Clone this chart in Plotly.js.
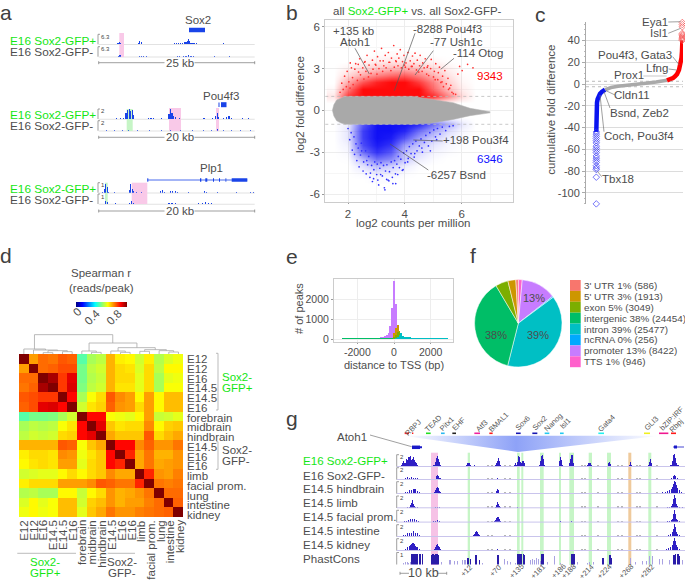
<!DOCTYPE html>
<html>
<head>
<meta charset="utf-8">
<script src="https://cdn.plot.ly/plotly-3.0.1.min.js"></script>
<style>
body { margin: 0; background: #fff; }
#fig { width: 685px; height: 580px; }
</style>
</head>
<body>
<div id="fig"></div>
<script>
// panel a: browser tracks (x in kb, height 0-1)
const aTrack1X = [3.1,3.3,3.5,4.5,5.8,6.4,6.6,6.8,7,7.6,12.2,12.5,12.8,13.1,13.4,13.7,14,14.2,14.4,14.6,14.8,15.1,15.4,15.7,16,17.8,18.5,19.8,20,20.4,21.5,22.8];
const aTrack1Y = [.15,.25,.1,.04,.05,.15,.3,.22,.07,.05,.08,.12,.15,.14,.15,.18,.2,.3,.5,.3,.15,.12,.1,.1,.06,.05,.04,.07,.1,.06,.07,.05];
const aTrack2X = [3.2,3.4,6.6,6.9,7.2,7.6,12.6,13,13.6,14,14.4,14.8,15.2,18.5,21];
const aTrack2Y = [.08,.12,.05,.08,.06,.05,.05,.06,.08,.1,.12,.1,.05,.03,.03];
const aTrack3X = [2.3,2.8,3.2,3.5,3.7,3.9,4.1,4.3,4.5,6.4,6.7,7,8.1,9,9.2,9.4,9.6,9.8,10.4,12.6,13.5,14.6,15,15.2,15.4,16,16.4,16.7,17,18.4,19.2,19.8];
const aTrack3Y = [.05,.05,.08,.6,.9,1,.8,.9,.4,.08,.12,.08,.05,.5,1,.6,.3,.15,.05,.04,.05,.1,.25,.55,.2,.08,.2,.3,.12,.05,.05,.04];
const aTrack4X = [1,2,3,3.8,5,6.5,8,9.2,10.5,12,13.4,14.5,15.2,16,17,18.2,19.5];
const aTrack4Y = [.04,.05,.04,.08,.04,.05,.04,.06,.04,.05,.08,.1,.14,.08,.05,.04,.05];
const aTrack5X = [.5,.7,.9,1.1,1.3,2,3.9,4.1,4.3,4.5,4.8,5.5,7.9,8.2,8.4,9.2,9.5,9.8,10.1,11.5,13.6,13.8,15.2,17.7,19.5,19.8];
const aTrack5Y = [.1,.4,.85,.5,.1,.05,.3,.85,.4,.15,.08,.05,.15,.22,.1,.15,.18,.16,.1,.04,.15,.1,.05,.07,.1,.06];
const aTrack6X = [.9,1.1,2.2,3.9,4.2,4.5,6,9,9.4,9.8,11,12.8,13.3,13.7,14.1,14.5,16,18];
const aTrack6Y = [.25,.15,.05,.1,.3,.08,.04,.07,.09,.06,.04,.08,.14,.16,.12,.07,.04,.04];

const greyX = [1.45,1.5,1.6,1.75,1.9,2.5,3.5,4.3,4.9,5.7,6.3,6.7,7.0];
const greyTop = [0,.4,.75,.9,1,1,1,1,.8,.55,.15,0,-.1];
const greyBottom = [0,-.4,-.75,-.9,-1,-1,-1,-1,-.93,-.65,-.38,-.25,-.18];
const densityX = [1.5,2,2.5,3,3.5,4,4.5,5,5.5,6,6.5];
const redDensityY = [.5,1,1.5,2,2.5,3,3.5,4];
const redDensity = [
[0,0,0,0,0,0,0,0,0,0,0],
[.1,.8,1,1,1,1,1,.85,.5,.15,0],
[.03,.55,1,1,1,1,1,.6,.28,.08,0],
[0,.35,.7,.9,1,1,.8,.5,.2,.04,0],
[0,.15,.35,.5,.6,.65,.5,.3,.12,.02,0],
[0,.05,.15,.22,.28,.3,.25,.15,.06,0,0],
[0,0,.04,.07,.1,.11,.08,.04,.01,0,0],
[0,0,0,.01,.02,.02,.01,0,0,0,0]];
const blueDensityY = [-5,-4.5,-4,-3.5,-3,-2.5,-2,-1.5,-1,-.5];
const blueDensity = [
[0,0,0,.02,.01,0,0,0,0,0,0],
[0,0,.03,.09,.07,.02,0,0,0,0,0],
[0,0,.12,.28,.2,.08,.02,0,0,0,0],
[0,.01,.3,.6,.5,.22,.08,.02,0,0,0],
[0,.03,.6,.85,.7,.25,.15,.05,.02,0,0],
[0,.06,.75,.95,.85,.4,.25,.1,.04,.01,0],
[0,.1,.8,1,.95,.7,.4,.2,.08,.02,0],
[0,.1,.8,1,1,.9,.6,.35,.15,.04,0],
[0,.08,.7,1,1,1,.9,.6,.35,.1,0],
[0,0,0,0,0,0,0,0,0,0,0]];
const redPointsX = [1.72,1.78,1.83,1.88,1.94,1.97,2.03,2.07,2.12,2.16,2.18,2.24,2.27,2.33,2.37,2.41,2.44,2.52,2.56,2.58,2.63,2.67,2.72,2.74,2.81,2.86,2.88,2.93,2.96,3.02,3.04,3.09,3.13,3.18,3.22,3.26,3.31,3.34,3.42,3.44,3.51,3.53,3.61,3.63,3.68,3.73,3.76,3.79,3.84,3.88,3.92,3.97,4.02,4.04,4.11,4.14,4.19,4.23,4.27,4.32,4.36,4.41,4.44,4.52,4.54,4.61,4.63,4.68,4.72,4.77,4.81,4.84,4.91,4.93,5.01,5.04,5.09,5.16,5.18,5.22,5.27,5.33,5.36,5.41,5.46,5.52,5.54,5.62,5.66,5.71,5.79,5.87,5.93,6.02,6.21,6.4,2.08,2.36,2.6,2.98,3.24,3.47,3.7,3.99,4.26,4.49,4.79,5.07,5.31,5.58];
const redPointsY = [1.3,1.95,1.5,2.45,1.7,2.8,2.05,1.6,3.05,2.35,1.85,2.95,3.35,2.15,2.75,3.7,2.55,3.05,2.25,3.45,2.8,3.95,2.4,3.25,2.65,3.6,2.95,4.25,3.3,2.6,3.85,3,3.55,4.45,2.8,3.2,3.95,3.05,4.15,3.45,2.85,3.75,4.65,3.1,3.55,4.05,3.2,3.75,4.35,3.05,3.5,3.95,3.1,3.4,4.15,2.95,3.55,3.15,3.9,3.35,4.1,2.9,3.6,3.2,3.95,2.8,3.4,3.05,3.7,2.6,3.2,2.5,3,3.65,2.4,2.8,3.35,2.2,2.7,3.1,2,2.45,1.7,2.85,1.9,2.3,1.5,1.8,1.3,1.2,1.15,2.6,3.15,2.85,3.3,3.05,3.4,3.3,3.5,3.25,3.55,3.45,3.5,3.25,3.15,2.75,3.1,2.2,2.05,1.6];
const bluePointsX = [2,2.06,2.11,2.15,2.21,2.23,2.28,2.31,2.36,2.39,2.44,2.47,2.53,2.55,2.62,2.64,2.69,2.73,2.77,2.83,2.86,2.91,2.94,3.01,3.03,3.08,3.12,3.16,3.21,3.25,3.28,3.32,3.37,3.41,3.46,3.52,3.56,3.59,3.64,3.67,3.72,3.77,3.81,3.86,3.91,3.96,4.01,4.06,4.12,4.16,4.22,4.28,4.33,4.39,4.43,4.51,4.57,4.62,4.69,4.74,4.83,4.88,4.95,5.02,5.08,5.15,5.24,5.32,5.44,5.57,5.7,2.9,3.05,3.15,3.3,3.44,3.58,3.75,3.94,2.48,2.66,2.79,3.36,3.68,4.1,4.35,4.6,4.9,5.12];
const bluePointsY = [-1.3,-2.1,-1.6,-2.85,-1.9,-3.15,-2.4,-3.6,-2.7,-4.05,-3.2,-2.35,-4.35,-3.7,-2.9,-4.55,-3.9,-3.3,-4.8,-3.95,-5.1,-4.25,-3.7,-4.6,-3.85,-5.35,-4.15,-3.75,-4.7,-3.95,-5.55,-4.35,-3.9,-5,-4.4,-3.7,-4.8,-4.1,-3.6,-4.55,-3.85,-3.3,-4.1,-3.5,-4.3,-3.05,-3.75,-2.9,-3.45,-2.6,-3.1,-2.4,-3.35,-2.2,-2.9,-2.55,-2.05,-3,-2.3,-1.8,-2.55,-1.6,-2.2,-1.4,-1.9,-1.3,-1.7,-1.2,-1.45,-1.15,-1.1,-4.9,-5,-4.6,-5.7,-5.05,-5.25,-4.6,-4.25,-2.9,-3.6,-4.5,-4.95,-5.25,-3.7,-3.1,-2.7,-2.9,-2.1];

// panel c: ranked cumulative difference
const cBlueX = [10.3,10.3,10.4,10.7,11,11.6,12.6,14,16,19];
const cBlueY = [-44,-35,-28,-22,-17,-14,-11,-9,-7,-5.3];
const cGreyX = [19,25,32,40,47,55,62,70,75,81];
const cGreyY = [-5.3,-3.2,-2,-1,-.3,.3,1,1.8,2.6,3.4];
const cRedX = [81,84,87,89,91,93,94.5,95.5,96,96.3,96.4];
const cRedY = [3.4,4.3,5.5,7,9,13,18,24,30,36,40];
const cBlueTailX = [10.3,10.3,10.3,10.3,10.3,10.3,10.3,10.3,10.3,10.3,10.3,10.3,10.3,10.3,10.3,10.3,10.3,10.3,10.3];
const cBlueTailY = [-110,-85.5,-78.5,-77,-75,-72,-70,-68,-66,-63,-61,-59,-57,-54,-52,-50,-48,-46,-44];
const cRedTailX = [96.3,96.3,96.3,96.3,96.3,96.3,96.3,96.3,96.3,96.3];
const cRedTailY = [56.5,54.5,52.5,46.5,45.3,44.2,43,42,41,40];

// panel d: Spearman matrix and dendrogram
const heatLabels = ['E12','E12','E16','E14.5','E14.5','E16','forebrain','midbrain','hindbrain','E14.5','E16','E16','limb','facial prom.','lung','intestine','kidney'];
const heatZ = [
[1,.72,.77,.76,.79,.78,.46,.54,.56,.70,.64,.63,.58,.64,.55,.59,.61],
[.72,1,.77,.78,.80,.80,.49,.56,.58,.70,.66,.65,.59,.66,.56,.63,.63],
[.77,.77,1,.96,.82,.90,.49,.55,.57,.70,.66,.66,.60,.66,.54,.60,.61],
[.76,.78,.96,1,.82,.91,.50,.56,.58,.70,.65,.65,.60,.66,.54,.62,.62],
[.79,.80,.82,.82,1,.87,.54,.62,.66,.79,.74,.72,.63,.72,.63,.69,.69],
[.78,.80,.90,.91,.87,1,.58,.65,.67,.78,.73,.72,.66,.72,.63,.69,.69],
[.46,.49,.49,.50,.54,.58,1,.87,.87,.62,.61,.60,.63,.72,.57,.58,.60],
[.54,.56,.55,.56,.62,.65,.87,1,.90,.68,.65,.66,.66,.74,.63,.67,.68],
[.56,.58,.57,.58,.66,.67,.87,.90,1,.71,.68,.68,.68,.79,.66,.69,.71],
[.70,.70,.70,.70,.79,.78,.62,.68,.71,1,.87,.87,.74,.78,.73,.73,.76],
[.64,.66,.66,.65,.74,.73,.61,.65,.68,.87,1,.84,.71,.76,.70,.70,.73],
[.63,.65,.66,.65,.72,.72,.60,.66,.68,.87,.84,1,.71,.76,.71,.72,.73],
[.58,.59,.60,.60,.63,.66,.63,.66,.68,.74,.71,.71,1,.84,.73,.72,.75],
[.64,.66,.66,.66,.72,.72,.72,.74,.79,.78,.76,.76,.84,1,.76,.75,.76],
[.55,.56,.54,.54,.63,.63,.57,.63,.66,.73,.70,.71,.73,.76,1,.77,.77],
[.59,.63,.60,.62,.69,.69,.58,.67,.69,.73,.70,.72,.72,.75,.77,1,.78],
[.61,.63,.61,.62,.69,.69,.60,.68,.71,.76,.73,.73,.75,.76,.77,.78,1]];
// each merge: left leaf, left height, right leaf, right height, join height
const dendMerges = [
[2,0,3,0,4],[4,0,5,0,7],[2.5,4,4.5,7,10],[1,0,3.5,10,12],[0,0,2.25,12,15],
[7,0,8,0,5],[6,0,7.5,5,9],[10,0,11,0,5],[9,0,10.5,5,9],[12,0,13,0,8],
[15,0,16,0,6],[14,0,15.5,6,10],[12.5,8,14.75,10,13],[9.75,9,13.6,13,19],
[6.75,9,11.7,19,33],[1.1,15,9.2,33,58]];

// panel e: distance to TSS histogram, 100 bp bins
const binPromoter = [-1000,-900,-800,-700,-600,-500,-400,-300,-200,-100,0,100,200,300,400,500,600,700];
const countPromoter = [60,60,70,80,100,130,200,320,650,1560,2900,1780,680,300,150,90,60,40];
const binUtr = [0,100,200,300,400,500];
const countUtr = [280,560,700,420,140,60];
const binExon = [0,100,200,300,400,500,600,700];
const countExon = [90,200,340,400,280,130,80,50];
const binIntron = [100,200,300,400,500,600,700,800,900,1000,1100,1200,1300,1400,1500,1600,1700,1800,1900,2000,2100,2200,2300,2400,2500,2600,2700,2800,2900];
const countIntron = [60,120,210,280,170,110,90,80,80,75,70,65,60,55,55,50,50,45,45,45,40,40,40,35,35,35,30,30,30];
const binIntergenic = [-2800,-2700,-2600,-2500,-2400,-2300,-2200,-2100,-2000,-1900,-1800,-1700,-1600,-1500,-1400,-1300,-1200,-1100,-1000,-900,-800,-700,-600,-500,-400,-300,-200,-100];
const countIntergenic = [45,45,45,45,45,45,45,45,45,48,48,48,50,50,50,52,52,55,55,58,58,60,60,60,60,60,60,60];

// panel f: peak annotation
const pieNames = ["3' UTR","5' UTR",'exon','intergenic','intron','ncRNA','promoter','TTS'];
const piePercent = [1,3,5,38,39,0,13,1];
const pieCounts = [586,1913,3049,24454,25477,256,8422,946];
const pieColors = ['#F8766D','#CD9600','#7CAE00','#00BE67','#00BFC4','#00A9FF','#C77CFF','#FF61CC'];

// panel g: Atoh1 locus tracks (x = position along the composite window)
const gTrackNames = ['E16 Sox2-GFP+','E16 Sox2-GFP-','E14.5 hindbrain','E14.5 limb','E14.5 facial prom.','E14.5 intestine','E14.5 kidney','PhastCons'];
const gT1X = [4,5,6,7,8,9,10,11,12,13,14,15,16,17,18,19,20,21,22,27,28,31,32,36,37,38,39,40,41,42,43,44,50,58,69,70,71,72,73,75,77,98,99,100,101,102,103,108,117,118,119,120,121,122,123,124,125,126,127,128,135,142,143,144,145,146,147,160,162,163,164,165,171,172,173,174,175,176,177,190,191,192,193,194,195,209,211,212,213,214,232,233,234,251,252,253,254,272,273,274,275,276,277,278,279,280,281,282];
const gT1Y = [.15,.3,.55,.3,.35,.7,.6,.85,.9,.95,.6,.75,.85,.6,.4,.3,.2,.1,.08,.1,.1,.08,.08,.15,.2,.45,.8,1,.75,.4,.2,.1,.08,.1,.15,.3,.35,.3,.15,.1,.12,.2,.35,.55,.8,.5,.2,.1,.15,.3,.2,.4,.95,.85,.45,.3,.5,.55,.3,.1,.1,.15,.55,1,1.1,.7,.2,.1,.5,.85,.6,.2,.1,.3,.7,1.1,1.1,.3,.1,.15,.3,.35,.3,.2,.1,.1,.3,.4,.25,.1,.15,.45,.2,.2,.45,.7,.3,.1,.15,.2,.5,1.1,1.2,.8,.3,.2,.15,.1];
const gT2X = [6,8,10,12,14,16,18,20,22,26,37,39,40,41,42,43,44,46,60,66,71,78,99,100,101,120,125,144,163,174,192,212,233,252,270,274,276,277,278,280,283];
const gT2Y = [.1,.2,.22,.2,.25,.2,.18,.12,.06,.05,.1,.3,.45,.3,.2,.15,.1,.06,.05,.04,.08,.04,.08,.12,.08,.08,.08,.1,.05,.1,.05,.06,.08,.08,.08,.15,.3,.45,.3,.15,.08];
const gT3X = [5,8,10,12,14,16,17,18,20,22,24,37,38,39,40,41,42,43,44,70,98,99,100,101,102,120,122,126,145,175,193,233,253,262,265,268,270,272,274,275,276,277,278,279,280,282,284,287];
const gT3Y = [.06,.12,.2,.3,.35,.4,.45,.4,.25,.12,.05,.12,.3,.5,.65,.5,.25,.15,.08,.06,.1,.25,.45,.3,.1,.05,.08,.05,.06,.05,.05,.06,.06,.1,.15,.2,.25,.35,.45,.6,.85,1.15,1.1,.8,.55,.35,.2,.1];
const gT4X = [10,12,13,14,15,16,17,18,20,24,38,40,42,70,98,99,100,101,102,103,120,145,193,233,270,272,274,275,276,277,278,279,280,282,285];
const gT4Y = [.05,.1,.25,.45,.7,.35,.15,.1,.06,.04,.06,.1,.05,.04,.12,.3,.55,.35,.15,.06,.05,.04,.04,.04,.06,.1,.2,.4,.85,1.2,.95,.4,.2,.1,.05];
const gT5X = [5,7,9,11,13,15,17,19,21,23,27,36,38,40,42,44,70,97,98,99,100,101,102,103,120,145,163,174,193,212,233,270,272,274,275,276,277,278,279,280,282,285];
const gT5Y = [.06,.1,.15,.2,.3,.32,.3,.22,.12,.06,.04,.08,.15,.22,.12,.06,.05,.12,.25,.4,.45,.5,.3,.1,.05,.05,.12,.08,.05,.05,.05,.08,.12,.2,.35,.8,1.1,.8,.35,.2,.1,.05];
const gT6X = [4,6,8,10,12,14,16,18,20,22,25,40,55,74,76,77,78,79,80,81,82,83,85,88,100,120,145,175,193,212,233,253,268,271,273,275,276,277,278,279,280,282,285];
const gT6Y = [.08,.15,.2,.3,.35,.35,.5,.35,.3,.15,.06,.05,.05,.06,.12,.25,.45,.55,.4,.25,.15,.1,.06,.05,.06,.05,.05,.06,.05,.05,.05,.05,.1,.15,.25,.45,.75,1.15,.85,.4,.25,.12,.05];
const gT7X = [4,6,8,10,12,13,14,15,16,17,18,19,20,22,24,27,36,37,38,39,40,41,42,43,45,60,80,98,100,102,120,145,175,193,212,266,269,271,273,275,276,277,278,279,280,282,284,287];
const gT7Y = [.06,.1,.2,.3,.4,.55,.65,.75,.7,.6,.45,.35,.3,.15,.08,.04,.08,.2,.35,.5,.65,.45,.3,.15,.06,.05,.05,.1,.2,.08,.05,.05,.05,.05,.05,.1,.15,.25,.35,.5,.85,1.2,.9,.55,.35,.2,.1,.05];
// small grey gene-model marks that repeat on every track
const gRepeatX = [91,95,108,113,185,188,201,221,225,240,243,260];
const gRepeatY = [.14,.14,.14,.14,.14,.14,.14,.14,.14,.14,.14,.14];
const gConsDarkX = [14,15,16,17,18,19,20,22,23,25,34,35,36,37,38,39,40,41,70,71,73,78,79,82,100,101,120,121,122,123,124,126,127,144,145,146,174,175,176,177,205,206,212,213,214,276,277,278,280,281,282];
const gConsDarkY = [1,1,1,1,1,1,1,1,1,1,.9,1,1,.9,1,1,1,.9,.6,.6,.5,.9,.9,.4,.9,.9,1,1,1,1,1,1,.9,1,1,1,1,1,1,1,.6,.6,.9,.9,.6,.9,.9,1,1,1,.8];
const gConsLightX = [6,8,10,11,13,44,52,53,57,60,65,67,68,85,107,110,113,118,133,135,137,139,141,143,150,157,163,180,190,192,196,233,238,245,249,252,255,262,265,272,285];
const gConsLightY = [.15,.2,.2,.15,.2,.2,.4,.4,.3,.3,.4,.45,.4,.1,.5,.3,.2,.15,.4,.5,.45,.6,.5,.35,.2,.8,.1,.2,.15,.2,.2,.6,.2,.3,.3,.8,.8,.5,.5,.4,.4];
const gPinkBands = [[431,438]];
const gGreenBands = [[467.7,470],[517,519.7],[521.3,523.3],[540,543.7],[559,561],[569.3,574],[588.7,592],[607,611],[648.3,651.3]];
const gOrangeBands = [[628.3,631.3]];
const motifNames = ['RBPJ','TEAD','Pitx1','EHF','Atf3','BMAL1','Sox6','Sox2','Nanog','Isl1','Gata4','GLI3','bZIP:IRF','Rbpj'];
const motifLabelX = [413,433,447,458,481,498,522,539,553,565,606,651,672,676];
const motifLabelY = [427,423,423,424,426,422,423,423,422,423,423,423,419,425];
const motifDash0 = [404,426,468,513,547,613,658,738,787,824,870,985,1122,1167,1203];
const motifDash1 = [417,430,482,524,558,630,668,752,802,838,881,1002,1140,1195,1218];
const motifDashColor = ['#ff1a1a','#ff1a1a','#22e022','#2ab8f0','#222222','#f020a0','#ff1a1a','#1515b0','#1515b0','#22c8f0','#22c8f0','#22f0f0','#f0f020','#f01890','#ff1a1a'];
const distLabels = ['+12','+70','+135','+181','+186','+188','+214','+224','+268','+282'];
const distLabelX = [466.7,495.7,516,537.7,558,568.3,586.7,604.3,626,646.7];
const distLabelY = [570.5,570.5,571,571,571,571,571.5,571.5,571.5,571];

const W = 685, H = 580;
const TXT = '#4d4d4d', GREEN = '#14e614', GENE = '#1a44e8', TRACK = '#2f1fc4', FONT = '"Liberation Sans", Arial, sans-serif';

const traces = [];
const shapes = [];
const annotations = [];
const layout = {
    width: W, height: H,
    margin: { l: 0, r: 0, t: 0, b: 0 },
    paper_bgcolor: '#ffffff',
    plot_bgcolor: 'rgba(0,0,0,0)',
    showlegend: false,
    font: { family: FONT, color: TXT, size: 11.5 },
    bargap: 0,
    shapes: shapes,
    annotations: annotations
};

function addAxes(n, l, t, r, b, xOpts, yOpts) {
    const base = { showgrid: false, zeroline: false, showticklabels: false, ticks: '', showline: false, fixedrange: true };
    layout['xaxis' + n] = Object.assign({}, base, { domain: [l / W, r / W], anchor: 'y' + n }, xOpts);
    layout['yaxis' + n] = Object.assign({}, base, { domain: [1 - b / H, 1 - t / H], anchor: 'x' + n }, yOpts);
}

function txt(text, x, y, o) {
    o = o || {};
    annotations.push({
        text: text, xref: 'paper', yref: 'paper', x: x / W, y: 1 - y / H,
        xanchor: o.anchor || 'left', yanchor: o.yanchor || 'middle', showarrow: false,
        font: { size: o.size || 11.5, color: o.color || TXT, family: FONT },
        textangle: o.angle || 0, borderpad: 0, borderwidth: 0
    });
}

function line(x0, y0, x1, y1, color, width, dash) {
    shapes.push({
        type: 'line', xref: 'paper', yref: 'paper',
        x0: x0 / W, y0: 1 - y0 / H, x1: x1 / W, y1: 1 - y1 / H,
        line: { color: color || '#666', width: width === undefined ? 0.7 : width, dash: dash || 'solid' }
    });
}

function band(x0, x1, y0, y1, color) {
    shapes.push({
        type: 'rect', layer: 'below', xref: 'paper', yref: 'paper',
        x0: x0 / W, y0: 1 - y0 / H, x1: x1 / W, y1: 1 - y1 / H,
        fillcolor: color, line: { width: 0 }
    });
}

function scaleBar(x0, x1, y, gap0, gap1) {
    line(x0, y, gap0, y, '#777', 0.7);
    line(gap1, y, x1, y, '#777', 0.7);
    line(x0, y - 1.5, x0, y + 1.5, '#777', 0.7);
    line(x1, y - 1.5, x1, y + 1.5, '#777', 0.7);
}

function bars(n, x, y, color, width) {
    traces.push({ type: 'bar', x: x, y: y, xaxis: 'x' + n, yaxis: 'y' + n, width: width, marker: { color: color, line: { width: 0 } }, hoverinfo: 'skip' });
}

function rev(a) { return a.slice().reverse(); }

// panel letters
[['a', 0, 12.5], ['b', 286, 12.5], ['c', 535, 14], ['d', 0, 255], ['e', 286, 256], ['f', 470, 255], ['g', 286, 418]].forEach(p => {
    txt(p[0], p[1], p[2], { size: 21, color: '#404040' });
});

// ----- panel a -----
const aTracks = [
    { id: 2, x: aTrack1X, y: aTrack1Y, base: 44.3, kb: 25, scale: '6.3' },
    { id: 3, x: aTrack2X, y: aTrack2Y, base: 56.7, kb: 25, scale: '6.3' },
    { id: 4, x: aTrack3X, y: aTrack3Y, base: 119, kb: 20, scale: '2' },
    { id: 5, x: aTrack4X, y: aTrack4Y, base: 130.7, kb: 20, scale: '2' },
    { id: 6, x: aTrack5X, y: aTrack5Y, base: 192.7, kb: 20, scale: '1' },
    { id: 7, x: aTrack6X, y: aTrack6Y, base: 204, kb: 20, scale: '1' }
];
aTracks.forEach((t, i) => {
    addAxes(t.id, 98.7, t.base - 11, 254.7, t.base, { range: [0, t.kb] }, { range: [0, 1.05] });
    band(98.7, 254.7, t.base - 0.2, t.base + 0.8, '#e2e2e2');
    bars(t.id, t.x, t.y, GENE, t.kb / 130);
    line(98, t.base - 10, 98, t.base, '#777', 0.7);
    line(98, t.base - 10, 100, t.base - 10, '#777', 0.7);
    txt(t.scale, 100.5, t.base - 7.5, { size: 6, color: '#444' });
    const plus = i % 2 === 0;
    txt(plus ? 'E16 Sox2-GFP+' : 'E16 Sox2-GFP-', plus ? 95.5 : 93, t.base - 3.5 - (plus ? 0 : 1), { anchor: 'right', size: 11.8, color: plus ? GREEN : TXT });
});
band(119.3, 124, 33, 57, '#f9c9e8');
band(126.7, 132.7, 109, 131, '#c6f5c6');
band(169, 181, 108, 131, '#f9c9e8');
band(216, 219, 108, 131, '#f9c9e8');
band(105, 107.7, 182.7, 204, '#c6f5c6');
band(131.7, 147.3, 182.7, 204, '#f9c9e8');
txt('Sox2', 197.7, 20, { anchor: 'center' });
line(189, 30, 205, 30, GENE, 4.5);
txt('Pou4f3', 220.7, 96, { anchor: 'center' });
line(218.5, 104.7, 219.5, 104.7, GENE, 4.5);
line(221, 104.7, 226.5, 104.7, GENE, 5);
txt('Plp1', 211.7, 168.3, { anchor: 'center' });
line(147.3, 180, 247.3, 180, GENE, 0.8);
[[147.3, 148.3], [200, 201.3], [205.3, 207.3], [213, 214], [219, 220], [225.5, 226.3], [231.7, 247.3]].forEach(e => line(e[0], 180, e[1], 180, GENE, 3.5));
scaleBar(98.7, 254.7, 62.7, 164.5, 194.5);
txt('25 kb', 180, 62.7, { anchor: 'center' });
scaleBar(98.7, 254.7, 137.3, 164.5, 194.5);
txt('20 kb', 180, 137.3, { anchor: 'center' });
scaleBar(98.7, 254.7, 211, 164.5, 194.5);
txt('20 kb', 180, 211, { anchor: 'center' });

// ----- panel b -----
const gridSoft = '#ededed';
addAxes(8, 325.3, 20, 513.3, 201.7,
    { range: [1.2, 7.82], tickvals: [2, 4, 6], ticktext: ['2', '4', '6'], showticklabels: true, ticks: 'outside', ticklen: 1, tickcolor: '#999', showgrid: true, gridcolor: gridSoft, showline: true, mirror: true, linecolor: '#ccc', tickfont: { size: 11.5, color: TXT }, minor: { dtick: 1, showgrid: true, gridcolor: '#f6f6f6' } },
    { range: [-6.55, 6.48], tickvals: [-6, -3, 0, 3, 6], ticktext: ['-6', '-3', '0', '3', '6'], showticklabels: true, ticks: 'outside', ticklen: 2, tickcolor: '#999', showgrid: true, gridcolor: gridSoft, showline: true, mirror: true, linecolor: '#ccc', tickfont: { size: 11.5, color: TXT }, minor: { dtick: 1.5, showgrid: true, gridcolor: '#f6f6f6' } });
function density(y, z, rgb) {
    traces.push({
        type: 'heatmap', x: densityX, y: y, z: z, zmin: 0, zmax: 1, zsmooth: 'best', showscale: false, hoverinfo: 'skip',
        colorscale: [[0, 'rgba(' + rgb + ',0)'], [1, 'rgba(' + rgb + ',1)']], xaxis: 'x8', yaxis: 'y8'
    });
}
density(redDensityY, redDensity, '255,10,10');
density(blueDensityY, blueDensity, '15,15,245');
traces.push({ type: 'scatter', mode: 'markers', x: redPointsX, y: redPointsY, marker: { size: 1.7, color: '#ff3030' }, xaxis: 'x8', yaxis: 'y8', hoverinfo: 'skip' });
traces.push({ type: 'scatter', mode: 'markers', x: bluePointsX, y: bluePointsY, marker: { size: 1.7, color: '#3030ff' }, xaxis: 'x8', yaxis: 'y8', hoverinfo: 'skip' });
traces.push({ type: 'scatter', mode: 'lines', x: greyX.concat(rev(greyX)), y: greyTop.concat(rev(greyBottom)), fill: 'toself', fillcolor: '#a9a9a9', line: { width: 0.5, color: '#b5b5b5' }, xaxis: 'x8', yaxis: 'y8', hoverinfo: 'skip' });
[1, -1].forEach(v => shapes.push({ type: 'line', xref: 'x8 domain', yref: 'y8', x0: 0, x1: 1, y0: v, y1: v, line: { color: '#bbbbbb', width: 0.8, dash: 'dot' } }));
txt('all <span style="color:' + GREEN + '">Sox2-GFP+</span> vs. all Sox2-GFP-', 332.7, 10.7);
txt('log2 counts per million', 413, 223, { anchor: 'center' });
txt('log2 fold difference', 300, 105, { anchor: 'center', angle: -90 });
txt('+135 kb', 353.3, 31, { anchor: 'center' });
txt('Atoh1', 355, 42.3, { anchor: 'center' });
txt('-8288 Pou4f3', 412.7, 29);
txt('-77 Ush1c', 430, 41.7);
txt('-114 Otog', 453.3, 52.7);
txt('9343', 477.3, 76, { color: '#ff0000' });
txt('+198 Pou3f4', 443.3, 140);
txt('6346', 477.3, 159, { color: '#1010ff' });
txt('-6257 Bsnd', 427.3, 175);
[[355, 48.3, 369.3, 74], [415, 33.3, 394.3, 90.7], [433.3, 50.7, 415, 75], [454, 58.3, 440.7, 69.3], [442.7, 141, 413.3, 140], [428.3, 170, 390, 144]].forEach(s => line(s[0], s[1], s[2], s[3], '#555', 0.7));

// ----- panel c -----
addAxes(9, 586, 22, 683, 204,
    { range: [0, 97] },
    { range: [-110.1, 56.9], tickvals: [-100, -80, -60, -40, -20, 0, 20, 40], ticktext: ['-100', '-80', '-60', '-40', '-20', '0', '20', '40'], showticklabels: true, ticks: 'outside', ticklen: 3, tickcolor: '#aaa', showline: true, linecolor: '#aaa', showgrid: true, gridcolor: '#dcdcdc', tickfont: { size: 11, color: TXT }, minor: { dtick: 5, ticks: 'outside', ticklen: 1.5, tickcolor: '#bbb', showgrid: false } });
[2.5, -2.5].forEach(v => shapes.push({ type: 'line', xref: 'x9 domain', yref: 'y9', x0: 0, x1: 1, y0: v, y1: v, line: { color: '#aaaaaa', width: 0.8, dash: 'dot' } }));
function rankLine(x, y, color, width) {
    traces.push({ type: 'scatter', mode: 'lines', x: x, y: y, line: { color: color, width: width }, xaxis: 'x9', yaxis: 'y9', hoverinfo: 'skip' });
}
function rankTail(x, y, color) {
    traces.push({ type: 'scatter', mode: 'markers', x: x, y: y, marker: { symbol: 'diamond-open', size: 5, color: color, line: { width: 0.7 } }, xaxis: 'x9', yaxis: 'y9', cliponaxis: false, hoverinfo: 'skip' });
}
rankLine(cGreyX, cGreyY, '#a9a9a9', 3.5);
rankLine(cBlueX, cBlueY, '#0a14f0', 4.5);
rankLine(cRedX, cRedY, '#ff0000', 4.5);
rankTail(cBlueTailX, cBlueTailY, '#3a3af5');
rankTail(cRedTailX, cRedTailY, '#f55050');
txt('cumulative fold difference', 550.7, 110, { anchor: 'center', angle: -90 });
txt('Eya1', 668, 22, { anchor: 'right' });
txt('Isl1', 668, 33.3, { anchor: 'right' });
txt('Pou4f3, Gata3', 597.7, 54.5);
txt('Lfng', 668, 68.5, { anchor: 'right' });
txt('Prox1', 614, 75);
txt('Cldn11', 614, 95);
txt('Bsnd, Zeb2', 610, 113);
txt('Coch, Pou3f4', 604, 135.7);
txt('Tbx18', 602, 179);
[[668.3, 22, 680.7, 21.7], [668.3, 33.3, 680.7, 28.3], [672.7, 56.7, 679.3, 65], [668.7, 69, 676.7, 70], [615, 95, 606, 90.7], [610, 108, 604, 91.7], [604, 131.7, 600, 95], [601.7, 176.7, 597.7, 171.7]].forEach(s => line(s[0], s[1], s[2], s[3], '#777', 0.7));
line(643.3, 76, 666.7, 76, '#bbb', 0.8);

// ----- panel d -----
addAxes(10, 19, 354, 183.3, 517.3, { range: [-0.5, 16.5] }, { range: [16.5, -0.5] });
traces.push({
    type: 'heatmap', z: heatZ, xaxis: 'x10', yaxis: 'y10', zmin: 0, zmax: 1, hoverinfo: 'skip',
    colorscale: [[0, '#00007f'], [.125, '#0000ff'], [.375, '#00ffff'], [.625, '#ffff00'], [.875, '#ff0000'], [1, '#7f0000']],
    showscale: true,
    colorbar: {
        orientation: 'h', x: 101.3 / W, xanchor: 'center', y: 1 - 301.7 / H, yanchor: 'top',
        len: 50.7, lenmode: 'pixels', thickness: 4.5, thicknessmode: 'pixels', outlinewidth: 0, xpad: 0, ypad: 0,
        tickvals: [0, .4, .8], showticklabels: false, ticks: ''
    }
});
txt('0', 77, 312, { anchor: 'center', angle: -45 });
txt('0.4', 92.3, 317, { anchor: 'center', angle: -45 });
txt('0.8', 114.3, 317, { anchor: 'center', angle: -45 });
addAxes(11, 19, 330, 183.3, 354, { range: [-0.5, 16.5] }, { range: [0, 72] });
const dendX = [], dendY = [];
dendMerges.forEach(m => {
    dendX.push(m[0], m[0], m[2], m[2], null);
    dendY.push(m[1], m[4], m[4], m[3], null);
});
traces.push({ type: 'scatter', mode: 'lines', x: dendX, y: dendY, line: { color: '#a8a8a8', width: 0.8 }, xaxis: 'x11', yaxis: 'y11', hoverinfo: 'skip' });
txt('Spearman r', 101, 273, { anchor: 'center' });
txt('(reads/peak)', 101, 288, { anchor: 'center' });
heatLabels.forEach((name, i) => {
    txt(name, 187.3, 359 + i * 9.75, {});
    txt(name, 23.3 + i * 9.8, 520.5, { anchor: 'center', yanchor: 'top', angle: -90 });
});
line(216, 353.3, 218, 353.3, '#aaa', 0.8); line(218, 353.3, 218, 410, '#aaa', 0.8); line(216, 410, 218, 410, '#aaa', 0.8);
line(216, 441.7, 218, 441.7, '#aaa', 0.8); line(218, 441.7, 218, 469.3, '#aaa', 0.8); line(216, 469.3, 218, 469.3, '#aaa', 0.8);
txt('Sox2-', 221.7, 377, { color: GREEN });
txt('GFP+', 221.7, 388, { color: GREEN });
txt('Sox2-', 221.7, 450);
txt('GFP-', 221.7, 461);
line(17.3, 553.3, 76, 553.3, '#aaa', 0.8);
line(107.7, 553.3, 135, 553.3, '#aaa', 0.8);
txt('Sox2-', 45.3, 561.7, { anchor: 'center', color: GREEN });
txt('GFP+', 45.3, 572.7, { anchor: 'center', color: GREEN });
txt('Sox2-', 121.7, 562, { anchor: 'center' });
txt('GFP-', 121.7, 572.7, { anchor: 'center' });

// ----- panel e -----
addAxes(12, 334, 279.3, 453.3, 341.7,
    { range: [-3273, 3233], tickvals: [-2000, 0, 2000], ticktext: ['-2000', '0', '2000'], showticklabels: true, ticks: 'outside', ticklen: 1, tickcolor: '#999', showgrid: true, gridcolor: gridSoft, showline: true, mirror: true, linecolor: '#ccc', tickfont: { size: 10.5, color: TXT } },
    { range: [-136, 3008], tickvals: [0, 1000, 2000], showticklabels: true, ticks: 'outside', ticklen: 2, tickcolor: '#999', showgrid: true, gridcolor: gridSoft, showline: true, mirror: true, linecolor: '#ccc', tickfont: { size: 10.5, color: TXT } });
layout.barmode = 'overlay';
bars(12, binPromoter, countPromoter, pieColors[6], 100);
bars(12, binUtr, countUtr, pieColors[1], 100);
bars(12, binExon, countExon, pieColors[2], 100);
bars(12, binIntron, countIntron, pieColors[4], 100);
bars(12, binIntergenic, countIntergenic, pieColors[3], 100);
txt('# of peaks', 299, 309, { anchor: 'center', angle: -90, size: 11 });
txt('distance to TSS (bp)', 394, 365, { anchor: 'center', size: 11 });

// ----- panel f -----
traces.push({
    type: 'pie', labels: rev(pieNames), values: rev(pieCounts), sort: false, direction: 'clockwise', rotation: 0,
    textinfo: 'none', hoverinfo: 'skip', marker: { colors: rev(pieColors), line: { color: '#ffffff', width: 0.5 } },
    domain: { x: [474.6 / W, 562 / W], y: [1 - 367 / H, 1 - 279.6 / H] }
});
txt('13%', 534.3, 297.5, { anchor: 'center', size: 11 });
txt('38%', 495.7, 335.3, { anchor: 'center', size: 11 });
txt('39%', 537.7, 335.3, { anchor: 'center', size: 11 });
pieNames.forEach((name, i) => {
    band(570, 580.7, 280 + i * 10.9, 280 + (i + 1) * 10.9, pieColors[i]);
    txt(name + ' ' + piePercent[i] + '% (' + pieCounts[i] + ')', 584, 285.5 + i * 10.9, { size: 9.9 });
});

// ----- panel g -----
const gBase = [466.7, 479.7, 493.7, 508, 522.3, 536.7, 550.7, 564.5];
const gLabelY = [460.7, 475, 488.7, 502.3, 516.3, 530, 544, 558];
const gSeries = [[gT1X, gT1Y], [gT2X, gT2Y], [gT3X, gT3Y], [gT4X, gT4Y], [gT5X, gT5Y], [gT6X, gT6Y], [gT7X, gT7Y]];
gTrackNames.forEach((name, i) => {
    const n = 13 + i, base = gBase[i];
    addAxes(n, 397, base - 13, 685, base, { range: [0, 288] }, { range: [0, 1.2] });
    txt(name, 303.3, gLabelY[i], { size: 11.6, color: i === 0 ? GREEN : TXT });
    line(396.7, base - 12, 396.7, base, '#777', 0.7);
    line(396.7, base - 12, 399, base - 12, '#777', 0.7);
    txt(i === 7 ? '1' : '2', 400, base - 10, { size: 6, color: '#444' });
    if (i < 7) {
        line(397, base - 0.2, 685, base - 0.2, '#c9c4ec', 1);
        bars(n, gRepeatX, gRepeatY, '#b5b5b5', 2);
        bars(n, gSeries[i][0], gSeries[i][1], TRACK, 1);
    }
});
bars(20, gConsLightX, gConsLightY, '#a9a2e2', 1);
bars(20, gConsDarkX, gConsDarkY, '#2a1ca8', 1);
gPinkBands.forEach(b => band(b[0], b[1], 452.7, 565, '#f6c2e6'));
gGreenBands.forEach(b => band(b[0], b[1], 452.7, 565, '#c6f5c6'));
gOrangeBands.forEach(b => band(b[0], b[1], 452.7, 565, '#efca9c'));

// page-sized axes, only for the zoom wedge that links the gene model to the tracks
addAxes(21, 0, 0, W, H, { range: [0, W] }, { range: [H, 0] });
traces.push({
    type: 'scatter', mode: 'lines', x: [403, 660, 518, 403], y: [435.7, 435.7, 452, 435.7], fill: 'toself',
    fillgradient: { type: 'horizontal', colorscale: [[0, '#ffffff'], [.44, '#8ea2f7'], [1, '#ffffff']] },
    line: { width: 0 }, xaxis: 'x21', yaxis: 'y21', hoverinfo: 'skip'
});
motifNames.forEach((name, i) => txt(name, motifLabelX[i], motifLabelY[i], { anchor: 'center', size: 7.5, angle: -45, color: '#555' }));
motifDash0.forEach((d, i) => line(270 + d / 3, 433.3, 270 + motifDash1[i] / 3, 433.3, motifDashColor[i], 1.6));
txt('Atoh1', 351.7, 436.7, { anchor: 'center' });
line(370, 435, 411.7, 446.7, '#777', 0.7);
line(412, 447.3, 420, 447.3, '#1a1ac8', 3.5);
line(420, 447.3, 422, 447.3, '#1a1ac8', 2);
line(673, 447, 684, 447, '#1a1ac8', 0.8);
line(674, 447, 677, 447, '#1a1ac8', 3);
txt('10 kb', 423.3, 572.5, { anchor: 'center', size: 12.5 });
scaleBar(400, 446.7, 573.3, 409, 437);
distLabels.forEach((name, i) => txt(name, distLabelX[i], distLabelY[i], { anchor: 'center', size: 7.5, angle: -45, color: '#555' }));

Plotly.newPlot('fig', traces, layout, { staticPlot: true, displayModeBar: false });
</script>
</body>
</html>
